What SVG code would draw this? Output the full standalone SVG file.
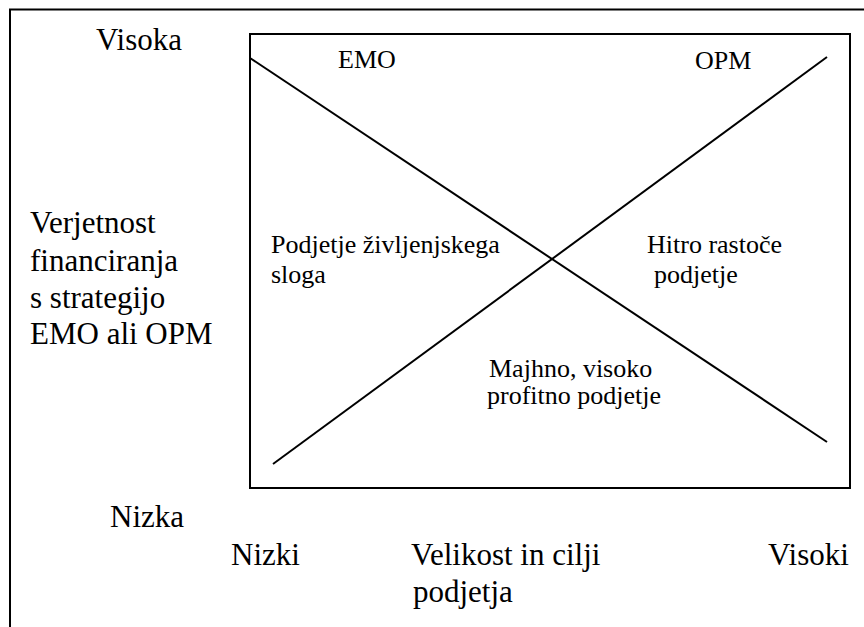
<svg xmlns="http://www.w3.org/2000/svg" width="864" height="627" viewBox="0 0 864 627">
  <style>
    .frame { fill: none; stroke: #000; stroke-width: 2; }
    .diag { fill: none; stroke: #000; stroke-width: 2; }
    text { font-family: "Liberation Serif", "DejaVu Serif", "Times New Roman", serif; fill: #000; }
    .big { font-size: 31px; }
    .small { font-size: 26px; }
  </style>
  <rect width="864" height="627" fill="#fff"/>
  <!-- outer frame, running off the right and bottom edges -->
  <rect class="frame" x="10" y="9.5" width="880" height="640"/>

  <!-- axis labels -->
  <g id="axis-y" font-family="Liberation Serif, serif">
    <text class="big" x="96" y="50">Visoka</text>
    <text class="big" x="30" y="233">Verjetnost</text>
    <text class="big" x="30" y="271">financiranja</text>
    <text class="big" x="30" y="308">s strategijo</text>
    <text class="big" x="30" y="344">EMO ali OPM</text>
    <text class="big" x="110" y="527">Nizka</text>
  </g>
  <g id="axis-x" font-family="Liberation Serif, serif">
    <text class="big" x="231" y="565">Nizki</text>
    <text class="big" x="411" y="565">Velikost in cilji</text>
    <text class="big" x="413" y="602">podjetja</text>
    <text class="big" x="768" y="565">Visoki</text>
  </g>

  <!-- matrix box -->
  <g id="matrix">
    <rect class="frame" x="250" y="34" width="600" height="454"/>
  </g>

  <!-- crossing lines -->
  <g id="connectors">
    <line class="diag" x1="250" y1="58" x2="827" y2="442"/>
    <line class="diag" x1="273" y1="464" x2="827" y2="57"/>
  </g>

  <!-- quadrant labels -->
  <g id="label-emo"><text class="small" x="338" y="68">EMO</text></g>
  <g id="label-opm"><text class="small" x="695" y="69">OPM</text></g>
  <g id="label-lifestyle">
    <text class="small" x="271" y="253">Podjetje življenjskega</text>
    <text class="small" x="271" y="283">sloga</text>
  </g>
  <g id="label-growth">
    <text class="small" x="647" y="253">Hitro rastoče</text>
    <text class="small" x="654" y="283">podjetje</text>
  </g>
  <g id="label-small">
    <text class="small" x="489" y="377">Majhno, visoko</text>
    <text class="small" x="487" y="404">profitno podjetje</text>
  </g>
</svg>
